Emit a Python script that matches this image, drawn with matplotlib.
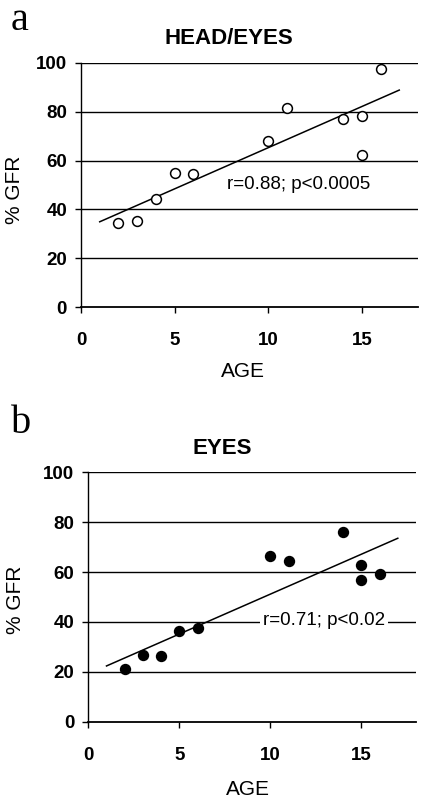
import matplotlib
matplotlib.use("Agg")
import matplotlib.pyplot as plt
import numpy as np

# panel a: HEAD/EYES
age_a = [2, 3, 4, 5, 6, 10, 11, 14, 15, 15, 16]
gfr_a = [34.3, 35.3, 44.1, 54.8, 54.5, 68.0, 81.5, 77.0, 78.2, 62.4, 97.4]
stat_a = "r=0.88; p<0.0005"

# panel b: EYES
age_b = [2, 3, 4, 5, 6, 10, 11, 14, 15, 15, 16]
gfr_b = [21.3, 26.6, 26.2, 36.4, 37.4, 66.6, 64.6, 76.1, 63.0, 56.8, 59.1]
stat_b = "r=0.71; p<0.02"

fit_range = [1, 17]
xticks = [0, 5, 10, 15]
yticks = [0, 20, 40, 60, 80, 100]

plt.rcParams['font.family'] = ['Liberation Sans', 'DejaVu Sans']

fig = plt.figure(figsize=(4.29, 7.99), dpi=100)
ax_a = fig.add_axes([0.1888, 0.6154, 0.7855, 0.3061])
ax_b = fig.add_axes([0.2058, 0.0967, 0.7639, 0.3121])


def draw_panel(ax, x, y, filled, title, stat, stat_pos, stat_box, title_x,
               xlab_pos, ylab_pos):
    ax.set_xlim(0, 18)
    ax.set_ylim(0, 100)
    for t in yticks[1:]:
        ax.axhline(t, color='black', lw=1.0, zorder=1)
    coef = np.polyfit(x, y, 1)
    xs = np.array(fit_range)
    ax.plot(xs, np.polyval(coef, xs), color='black', lw=1.1, zorder=2)
    ax.scatter(x, y, s=50, facecolors='black' if filled else 'white',
               edgecolors='black', linewidths=1.1, zorder=3, clip_on=False)
    bbox = dict(facecolor='white', edgecolor='none', pad=2) if stat_box else None
    ax.text(stat_pos[0], stat_pos[1], stat, fontsize=13.5, va='center',
            ha='left', bbox=bbox, zorder=4)
    ax.text(title_x, 1.075, title, transform=ax.transAxes, fontsize=16,
            fontweight='bold', ha='center', va='baseline')
    for side in ['top', 'right']:
        ax.spines[side].set_visible(False)
    ax.spines['left'].set_linewidth(1.0)
    ax.spines['bottom'].set_linewidth(1.3)
    ax.set_xticks(xticks)
    ax.set_yticks(yticks)
    ax.tick_params(axis='x', length=4, width=1, pad=14, labelsize=13.5)
    ax.tick_params(axis='y', length=4, width=1, pad=6, labelsize=13.5)
    for lab in ax.get_xticklabels() + ax.get_yticklabels():
        lab.set_fontweight('bold')
    ax.set_xlabel('AGE', fontsize=15, va='top')
    ax.set_ylabel('% GFR', fontsize=15)
    ax.xaxis.set_label_coords(*xlab_pos)
    ax.yaxis.set_label_coords(*ylab_pos)


draw_panel(ax_a, age_a, gfr_a, False, 'HEAD/EYES', stat_a, (7.8, 50.2), False, 0.44,
           (0.48, -0.222), (-0.169, 0.48))
draw_panel(ax_b, age_b, gfr_b, True, 'EYES', stat_b, (9.6, 40.5), True, 0.41,
           (0.487, -0.234), (-0.193, 0.488))

fig.text(0.025, 0.962, 'a', fontsize=29, family=['Liberation Serif', 'DejaVu Serif'],
         va='baseline')
fig.text(0.025, 0.458, 'b', fontsize=29, family=['Liberation Serif', 'DejaVu Serif'],
         va='baseline')

fig.savefig('out.png', dpi=100)
